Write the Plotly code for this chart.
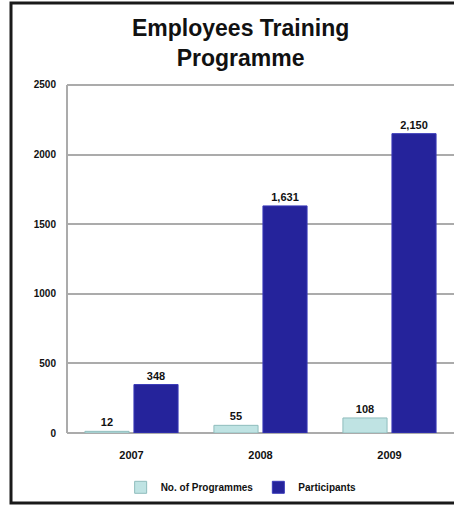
import plotly.graph_objects as go

years = ["2007", "2008", "2009"]
programmes = [12, 55, 108]
participants = [348, 1631, 2150]
prog_labels = ["12", "55", "108"]
part_labels = ["348", "1,631", "2,150"]
y_ticks = [0, 500, 1000, 1500, 2000, 2500]

W, H = 454, 506
L, R, T, B = 67, 0, 71, 73
pw, ph = W - L - R, H - T - B
GRID = "#ababab"
Y_MAX = 2600


def px_x(x):
    return (x - L) / pw


def px_y(y):
    return (H - B - y) / ph


bold = dict(family="Liberation Sans, Arial, sans-serif", color="#111111", weight="bold")

fig = go.Figure()
fig.add_trace(go.Bar(
    x=years, y=programmes, name="No. of Programmes",
    marker=dict(color="#bfe3e3", line=dict(color="#8fbcbc", width=1)),
    text=prog_labels, textposition="outside",
    textfont=dict(size=11, **bold), cliponaxis=False,
))
fig.add_trace(go.Bar(
    x=years, y=participants, name="Participants",
    marker=dict(color="#25239b", line=dict(color="#3a3ab8", width=1)),
    text=part_labels, textposition="outside",
    textfont=dict(size=11, **bold), cliponaxis=False,
))

fig.update_layout(
    width=W, height=H,
    margin=dict(l=L, r=R, t=T, b=B),
    paper_bgcolor="white", plot_bgcolor="white",
    barmode="group", bargap=0.24, bargroupgap=0.1,
    font=dict(size=10, **bold),
    showlegend=True,
    legend=dict(orientation="h", x=0.45, xanchor="center", y=-0.15, yanchor="middle",
                bgcolor="rgba(0,0,0,0)", font=dict(size=10, **bold),
                itemwidth=30, traceorder="normal"),
    xaxis=dict(showgrid=False, showline=False, ticks="", ticklabelstandoff=14,
               tickfont=dict(size=11, **bold)),
    yaxis=dict(range=[0, Y_MAX], tickvals=y_ticks,
               showgrid=True, gridcolor=GRID, gridwidth=2,
               showline=False,
               zeroline=True, zerolinecolor=GRID, zerolinewidth=2,
               tickfont=dict(size=10, **bold), ticklabelstandoff=10),
    annotations=[dict(
        text="Employees Training<br>Programme", xref="paper", yref="paper",
        x=px_x(240), y=px_y(43), xanchor="center", yanchor="middle", showarrow=False,
        font=dict(size=23, **bold),
    )],
    shapes=[
        # value-axis line from 0 up to the highest tick
        dict(type="line", xref="paper", yref="y", x0=0, x1=0,
             y0=0, y1=y_ticks[-1], line=dict(color=GRID, width=2), layer="below"),
        # outer frame
        dict(type="rect", xref="paper", yref="paper",
             x0=px_x(11), x1=px_x(460), y0=px_y(503), y1=px_y(3),
             line=dict(color="#1a1a1a", width=3), layer="above"),
    ],
)

fig.write_html("out.html")
